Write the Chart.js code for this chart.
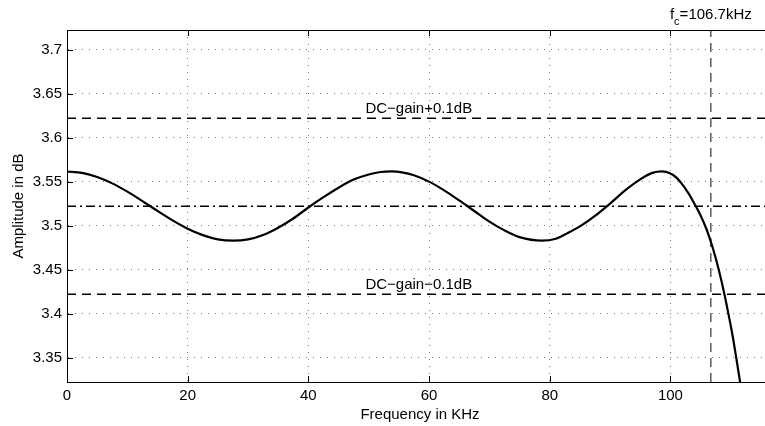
<!DOCTYPE html>
<html><head><meta charset="utf-8">
<script src="https://cdn.jsdelivr.net/npm/chart.js@4.4.1/dist/chart.umd.min.js"></script>
<style>html,body{margin:0;padding:0;overflow:hidden;background:#fff;} #wrap{width:773px;height:426px;}</style>
</head><body><div id="wrap"><canvas id="c" width="773" height="426"></canvas></div>
<script>
// ---- data ----
const freqKHz = [0, 2.5, 5, 7.5, 10, 12.5, 15, 17.5, 20, 22.5, 25, 27.6, 30, 32.5, 35, 37.5, 40, 42.5, 45, 47.5, 50, 52, 53.8, 55.5, 57.5, 60, 62.5, 65, 67.5, 70, 72.5, 75, 78.7, 81, 83, 85, 87.5, 90, 92.5, 95, 97, 98.6, 100, 101, 102, 103, 104, 105, 106, 107, 108, 108.95, 109.6, 110.3, 110.9, 111.55, 112.2];
const ampDB = [3.5614, 3.5598, 3.5552, 3.5479, 3.5385, 3.5278, 3.5166, 3.5059, 3.4964, 3.4891, 3.4843, 3.4828, 3.4842, 3.4892, 3.4975, 3.5080, 3.5205, 3.5322, 3.5430, 3.5522, 3.5580, 3.5608, 3.5615, 3.5605, 3.5572, 3.5499, 3.5400, 3.5285, 3.5165, 3.5045, 3.4945, 3.4868, 3.4828, 3.4850, 3.4915, 3.4990, 3.5110, 3.5250, 3.5400, 3.5525, 3.5598, 3.5615, 3.5592, 3.5545, 3.5465, 3.5365, 3.5245, 3.5115, 3.4955, 3.4750, 3.4500, 3.4220, 3.4000, 3.3750, 3.3500, 3.3220, 3.2920];
const xTicks = [0, 20, 40, 60, 80, 100];
const xTickLabels = ['0', '20', '40', '60', '80', '100'];
const yTicks = [3.35, 3.4, 3.45, 3.5, 3.55, 3.6, 3.65, 3.7];
const yTickLabels = ['3.35', '3.4', '3.45', '3.5', '3.55', '3.6', '3.65', '3.7'];
const dcGain = 3.522;
const upperLimit = 3.622;
const lowerLimit = 3.422;
const cutoffKHz = 106.7;
const xRange = [0, 117];
const yRange = [3.3222, 3.7222];
const limitLabels = ['DC\u2212gain+0.1dB', 'DC\u2212gain\u22120.1dB'];
const limitLabelX = 58.3;
const cutoffLabel = ['f', 'c', '=106.7kHz'];
const xTitle = 'Frequency in KHz';
const yTitle = 'Amplitude in dB';

const FONT = '"Liberation Sans", Arial, Helvetica, sans-serif';

const curve = freqKHz.map((f, i) => ({x: f, y: ampDB[i]}));
const hLine = v => [{x: xRange[0], y: v}, {x: xRange[1], y: v}];
const vLine = v => [{x: v, y: yRange[0]}, {x: v, y: yRange[1]}];

const extras = {
  id: 'extras',
  afterDraw(chart) {
    const {ctx, chartArea: a, scales: {x, y}} = chart;
    ctx.save();
    ctx.strokeStyle = '#000'; ctx.lineWidth = 1;
    ctx.beginPath(); ctx.moveTo(a.left, Math.round(a.top) + 0.5); ctx.lineTo(a.right, Math.round(a.top) + 0.5); ctx.stroke();
    ctx.beginPath();
    xTicks.forEach(v => {
      const px = Math.round(x.getPixelForValue(v)) + 0.5;
      ctx.moveTo(px, a.bottom); ctx.lineTo(px, a.bottom - 6);
      ctx.moveTo(px, a.top); ctx.lineTo(px, a.top + 6);
    });
    yTicks.forEach(v => {
      const py = Math.round(y.getPixelForValue(v)) + 0.5;
      ctx.moveTo(a.left, py); ctx.lineTo(a.left + 6, py);
    });
    ctx.stroke();
    ctx.fillStyle = '#000';
    ctx.font = '15px ' + FONT;
    ctx.textAlign = 'center'; ctx.textBaseline = 'alphabetic';
    const lx = x.getPixelForValue(limitLabelX);
    ctx.fillText(limitLabels[0], lx, y.getPixelForValue(upperLimit) - 5.5);
    ctx.fillText(limitLabels[1], lx, y.getPixelForValue(lowerLimit) - 5);
    ctx.textAlign = 'left';
    ctx.font = '15px ' + FONT;
    const fW = ctx.measureText(cutoffLabel[0]).width;
    const mW = ctx.measureText(cutoffLabel[2]).width;
    ctx.font = '11px ' + FONT;
    const cW = ctx.measureText(cutoffLabel[1]).width;
    const cx = x.getPixelForValue(cutoffKHz);
    const x0 = cx - (fW + cW + mW) / 2;
    ctx.font = '15px ' + FONT;
    ctx.fillText(cutoffLabel[0], x0, 18.5);
    ctx.fillText(cutoffLabel[2], x0 + fW + cW, 18.5);
    ctx.font = '11px ' + FONT;
    ctx.fillText(cutoffLabel[1], x0 + fW, 25);
    ctx.restore();
  }
};

new Chart(document.getElementById('c'), {
  type: 'scatter',
  data: {
    datasets: [
      {data: curve, showLine: true, borderColor: '#000', borderWidth: 2.2, pointRadius: 0, cubicInterpolationMode: 'monotone', fill: false},
      {data: hLine(upperLimit), showLine: true, borderColor: '#000', borderWidth: 1.5, borderDash: [9, 6], pointRadius: 0},
      {data: hLine(dcGain), showLine: true, borderColor: '#000', borderWidth: 1.5, borderDash: [9, 4, 2, 4], pointRadius: 0},
      {data: hLine(lowerLimit), showLine: true, borderColor: '#000', borderWidth: 1.5, borderDash: [9, 6], pointRadius: 0},
      {data: vLine(cutoffKHz), showLine: true, borderColor: '#333', borderWidth: 1.2, borderDash: [9, 6], pointRadius: 0}
    ]
  },
  options: {
    responsive: false,
    animation: false,
    events: [],
    layout: {padding: {top: 30, left: 0, right: 0, bottom: 0}},
    plugins: {legend: {display: false}, tooltip: {enabled: false}},
    scales: {
      x: {
        type: 'linear', min: xRange[0], max: xRange[1],
        afterBuildTicks: s => { s.ticks = xTicks.map(v => ({value: v})); },
        afterFit: s => { s.height = 44; },
        ticks: {callback: (v) => xTickLabels[xTicks.indexOf(v)], color: '#000', font: {family: FONT, size: 15}, padding: 5, maxRotation: 0, autoSkip: false},
        grid: {color: '#777', lineWidth: 1, drawTicks: false},
        border: {display: true, color: '#000', width: 1, dash: [1, 6]},
        title: {display: true, text: xTitle, color: '#000', font: {family: FONT, size: 15}, padding: {top: 0, bottom: 2}}
      },
      y: {
        type: 'linear', min: yRange[0], max: yRange[1],
        afterBuildTicks: s => { s.ticks = yTicks.map(v => ({value: v})); },
        afterFit: s => { s.width = 67; },
        ticks: {callback: (v) => yTickLabels[yTicks.indexOf(v)], color: '#000', font: {family: FONT, size: 15}, padding: 5, autoSkip: false},
        grid: {color: '#777', lineWidth: 1, drawTicks: false},
        border: {display: true, color: '#000', width: 1, dash: [1, 6]},
        title: {display: true, text: yTitle, color: '#000', font: {family: FONT, size: 15}, padding: {top: 10, bottom: 0}}
      }
    }
  },
  plugins: [extras]
});
</script></body></html>
